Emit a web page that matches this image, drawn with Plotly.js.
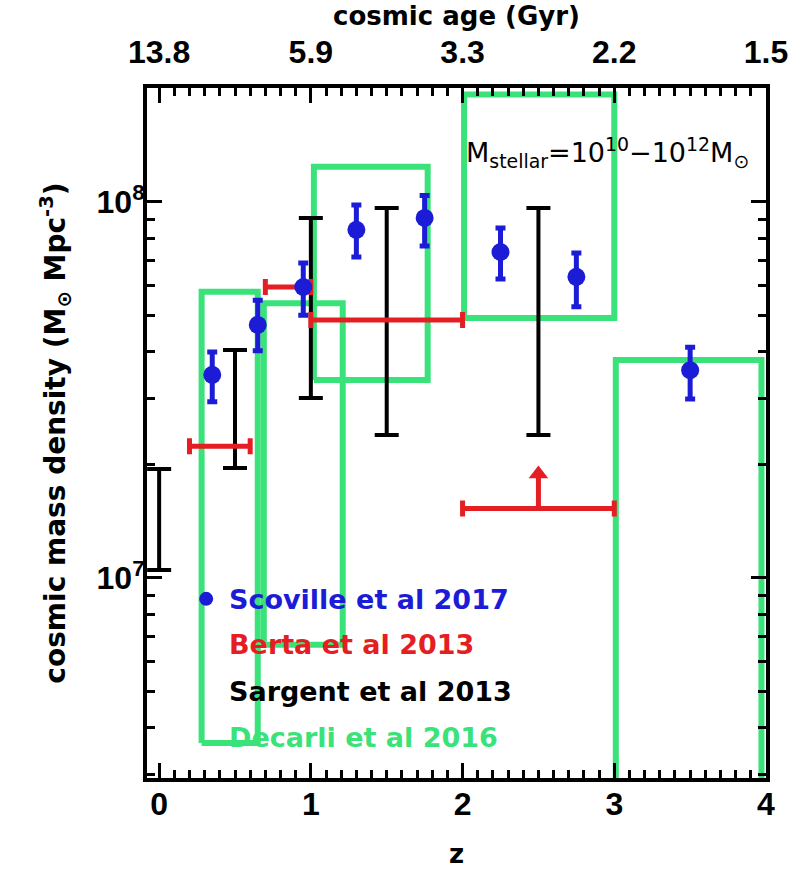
<!DOCTYPE html>
<html>
<head>
<meta charset="utf-8">
<script src="https://cdn.plot.ly/plotly-3.0.1.min.js"></script>
<style>html,body{margin:0;padding:0;background:#fff;}#chart{width:802px;height:873px;}</style>
</head>
<body>
<div id="chart"></div>
<script>
// ---- Scoville et al 2017 (blue points) ----
const scovZ     = [0.35, 0.65, 0.95, 1.30, 1.75, 2.25, 2.75, 3.50];
const scovRho   = [3.47e7, 4.71e7, 5.94e7, 8.43e7, 9.07e7, 7.36e7, 6.32e7, 3.57e7];
const scovHigh  = [3.99e7, 5.48e7, 6.88e7, 9.82e7, 1.04e8, 8.53e7, 7.32e7, 4.11e7];
const scovLow   = [2.94e7, 4.02e7, 5.00e7, 7.14e7, 7.64e7, 6.24e7, 5.26e7, 2.99e7];

// ---- Sargent et al 2013 (black ranges) ----
const sargZ     = [0.0, 0.5, 1.0, 1.5, 2.5];
const sargHigh  = [1.95e7, 4.04e7, 9.07e7, 9.64e7, 9.64e7];
const sargLow   = [1.05e7, 1.96e7, 3.01e7, 2.40e7, 2.40e7];

// ---- Berta et al 2013 (red horizontal bins) ----
const bertaZmin = [0.2, 0.7, 1.0, 2.0];
const bertaZmax = [0.6, 1.0, 2.0, 3.0];
const bertaRho  = [2.24e7, 5.94e7, 4.85e7, 1.53e7];
// lower limit arrow on the last bin
const bertaLimZ = [2.5];
const bertaLimFrom = [1.53e7];
const bertaLimTo   = [1.89e7];

// ---- Decarli et al 2016 (green boxes) ----
const decZmin   = [0.28, 0.69, 1.02, 2.01, 3.01];
const decZmax   = [0.65, 1.21, 1.77, 3.00, 3.97];
const decLow    = [3.64e6, 6.64e6, 3.36e7, 4.91e7, 1.0e6];
const decHigh   = [5.77e7, 5.38e7, 1.24e8, 1.93e8, 3.80e7];

// ---- axes ----
const zTicks    = [0, 1, 2, 3, 4];
const zTickText = ['0', '1', '2', '3', '4'];
const ageTickText = ['13.8', '5.9', '3.3', '2.2', '1.5'];
const yTickVals = [1e7, 1e8];
const yTickText = ['10<sup>7</sup>', '10<sup>8</sup>'];
const yMinorVals = [3e6,4e6,5e6,6e6,7e6,8e6,9e6,2e7,3e7,4e7,5e7,6e7,7e7,8e7,9e7,2e8];

// ---- legend entries ----
const legendLabels = ['Scoville et al 2017', 'Berta et al 2013', 'Sargent et al 2013', 'Decarli et al 2016'];
const legendDotZ = [0.31];
const legendDotRho = [8.8e6];

const BLUE = 'rgb(28,28,215)';
const RED = 'rgb(228,30,35)';
const GREEN = 'rgb(58,226,122)';
const FONT = 'Liberation Sans, Arial, sans-serif';
const TFONT = 'DejaVu Sans, sans-serif';

const traces = [];

// green boxes
for (let i = 0; i < decZmin.length; i++) {
  traces.push({
    type: 'scatter', mode: 'lines', hoverinfo: 'skip', showlegend: false,
    x: [decZmin[i], decZmax[i], decZmax[i], decZmin[i], decZmin[i]],
    y: [decLow[i], decLow[i], decHigh[i], decHigh[i], decLow[i]],
    line: {color: GREEN, width: 6}
  });
}

// Sargent ranges
traces.push({
  type: 'scatter', mode: 'markers', hoverinfo: 'skip', showlegend: false,
  x: sargZ,
  y: sargZ.map((_, i) => (sargHigh[i] + sargLow[i]) / 2),
  marker: {size: 1, opacity: 0},
  error_y: {
    type: 'data', symmetric: false,
    array: sargZ.map((_, i) => sargHigh[i] - (sargHigh[i] + sargLow[i]) / 2),
    arrayminus: sargZ.map((_, i) => (sargHigh[i] + sargLow[i]) / 2 - sargLow[i]),
    color: 'black', thickness: 4, width: 12
  }
});

// Berta bins
traces.push({
  type: 'scatter', mode: 'markers', hoverinfo: 'skip', showlegend: false,
  x: bertaZmin.map((v, i) => (v + bertaZmax[i]) / 2),
  y: bertaRho,
  marker: {size: 1, opacity: 0},
  error_x: {
    type: 'data', symmetric: true,
    array: bertaZmin.map((v, i) => (bertaZmax[i] - v) / 2),
    color: RED, thickness: 5, width: 8
  }
});
// Berta lower-limit arrow
traces.push({
  type: 'scatter', mode: 'lines', hoverinfo: 'skip', showlegend: false,
  x: [bertaLimZ[0], bertaLimZ[0]], y: [bertaLimFrom[0], bertaLimTo[0]],
  line: {color: RED, width: 5}
});
traces.push({
  type: 'scatter', mode: 'markers', hoverinfo: 'skip', showlegend: false,
  x: bertaLimZ, y: bertaLimTo,
  marker: {symbol: 'triangle-up', size: 17, color: RED}
});

// Scoville points
traces.push({
  type: 'scatter', mode: 'markers', hoverinfo: 'skip', showlegend: false,
  x: scovZ, y: scovRho,
  marker: {symbol: 'circle', size: 18, color: BLUE},
  error_y: {
    type: 'data', symmetric: false,
    array: scovRho.map((v, i) => scovHigh[i] - v),
    arrayminus: scovRho.map((v, i) => v - scovLow[i]),
    color: BLUE, thickness: 5, width: 5
  }
});

// legend dot
traces.push({
  type: 'scatter', mode: 'markers', hoverinfo: 'skip', showlegend: false,
  x: legendDotZ, y: legendDotRho,
  marker: {symbol: 'circle', size: 14, color: BLUE}
});

// dummy trace for top axis
traces.push({
  type: 'scatter', mode: 'markers', hoverinfo: 'skip', showlegend: false,
  x: [0], y: [1e7], xaxis: 'x2', yaxis: 'y',
  marker: {size: 1, opacity: 0}
});

const legendColors = [BLUE, RED, 'black', GREEN];
const legendY = [0.259, 0.193, 0.125, 0.058];
const annotations = legendLabels.map((t, i) => ({
  text: t, xref: 'paper', yref: 'paper', x: 0.129, y: legendY[i],
  xanchor: 'left', yanchor: 'middle', showarrow: false,
  font: {family: TFONT, size: 27, color: legendColors[i], weight: 'bold'}
}));
annotations.push({
  text: 'M<sub>stellar</sub>=10<sup>10</sup>\u221210<sup>12</sup>M<sub>\u2299</sub>',
  xref: 'paper', yref: 'paper', x: 0.512, y: 0.907,
  xanchor: 'left', yanchor: 'middle', showarrow: false,
  font: {family: TFONT, size: 27, color: 'black'}
});

const tickFont = {family: FONT, size: 32, color: 'black', weight: 'bold'};
const titleFont = {family: TFONT, size: 26, color: 'black', weight: 'bold'};

const layout = {
  width: 802, height: 873,
  margin: {l: 147, r: 36, t: 88, b: 95},
  paper_bgcolor: 'white', plot_bgcolor: 'white',
  showlegend: false,
  xaxis: {
    range: [-0.08, 4.0], tickvals: zTicks, ticktext: zTickText,
    ticks: 'inside', ticklen: 15, tickwidth: 3, tickcolor: 'black',
    minor: {dtick: 0.1, ticks: 'inside', ticklen: 8, tickwidth: 3, tickcolor: 'black', showgrid: false},
    showline: true, linewidth: 4, linecolor: 'black', mirror: 'ticks',
    showgrid: false, zeroline: false,
    tickfont: tickFont, ticklabelstandoff: -5,
    title: {text: 'z', font: titleFont, standoff: 24},
    automargin: false
  },
  xaxis2: {
    overlaying: 'x', side: 'top', anchor: 'y',
    range: [-0.08, 4.0], tickvals: zTicks, ticktext: ageTickText,
    ticks: '', showline: false, showgrid: false, zeroline: false,
    tickfont: tickFont, ticklabelstandoff: 18,
    title: {text: 'cosmic age (Gyr)', font: titleFont, standoff: 0},
    automargin: false
  },
  yaxis: {
    type: 'log', range: [6.468, 8.303],
    tickvals: yTickVals, ticktext: yTickText,
    ticks: 'inside', ticklen: 15, tickwidth: 3, tickcolor: 'black',
    minor: {tickvals: yMinorVals, ticks: 'inside', ticklen: 8, tickwidth: 3, tickcolor: 'black', showgrid: false},
    showline: true, linewidth: 4, linecolor: 'black', mirror: 'ticks',
    showgrid: false, zeroline: false,
    tickfont: tickFont, ticklabelstandoff: -8,
    title: {text: 'cosmic mass density (M<sub>\u2299</sub> Mpc<sup>-3</sup>)', font: {family: TFONT, size: 28, color: 'black', weight: 'bold'}, standoff: 24},
    automargin: false
  },
  annotations: annotations
};

Plotly.newPlot('chart', traces, layout, {staticPlot: true, displayModeBar: false});
</script>
</body>
</html>
